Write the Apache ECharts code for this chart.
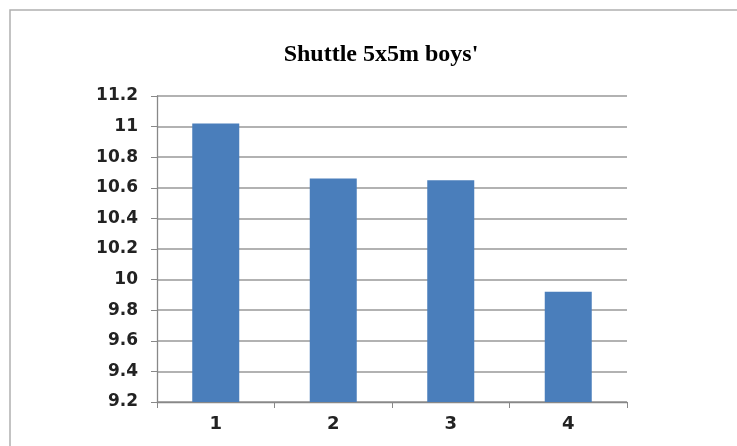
<!DOCTYPE html>
<html>
<head>
<meta charset="utf-8">
<script src="https://cdn.jsdelivr.net/npm/echarts@6/dist/echarts.min.js"></script>
<style>
  html, body { margin: 0; padding: 0; background: #fff; }
  #chartmain { width: 737px; height: 446px; }
</style>
</head>
<body>
<div id="chartmain"></div>
<script>
// data
var categories = ['1', '2', '3', '4'];
var times = [11.02, 10.66, 10.65, 9.92];
var yMin = 9.2, yMax = 11.2, yStep = 0.2;

var myChart = echarts.init(document.getElementById('chartmain'));
var options = {
    animation: false,
    backgroundColor: '#fff',
    title: {
        text: "Shuttle 5x5m boys'",
        left: 376,
        top: 38,
        textAlign: 'center',
        textStyle: {
            fontFamily: 'Liberation Serif',
            fontWeight: 'bold',
            fontSize: 24,
            color: '#000'
        }
    },
    graphic: [{
        type: 'rect',
        shape: { x: 10, y: 10, width: 760, height: 460 },
        style: { fill: 'none', stroke: '#b0b0b0', lineWidth: 1.5 },
        silent: true
    }],
    grid: { left: 157, right: 110, top: 96, bottom: 44 },
    xAxis: {
        type: 'category',
        data: categories,
        axisLine: { lineStyle: { color: '#888', width: 1.3 } },
        axisTick: { show: true, length: 6, alignWithLabel: false, lineStyle: { color: '#888' } },
        axisLabel: { margin: 13, fontFamily: 'DejaVu Sans', fontWeight: 'bold', fontSize: 18, color: '#222' }
    },
    yAxis: {
        type: 'value',
        min: yMin,
        max: yMax,
        interval: yStep,
        axisLine: { show: true, lineStyle: { color: '#888', width: 1.3 } },
        axisTick: { show: true, length: 6, lineStyle: { color: '#888' } },
        axisLabel: {
            margin: 19,
            fontFamily: 'DejaVu Sans',
            fontWeight: 'bold',
            fontSize: 17,
            color: '#222',
            formatter: function (v) { return String(Math.round(v * 10) / 10); }
        },
        splitLine: { lineStyle: { color: '#999', width: 1.5 } }
    },
    series: [{
        type: 'bar',
        data: times,
        barWidth: '40%',
        itemStyle: { color: '#4a7ebb' }
    }]
};
myChart.setOption(options);
</script>
</body>
</html>
